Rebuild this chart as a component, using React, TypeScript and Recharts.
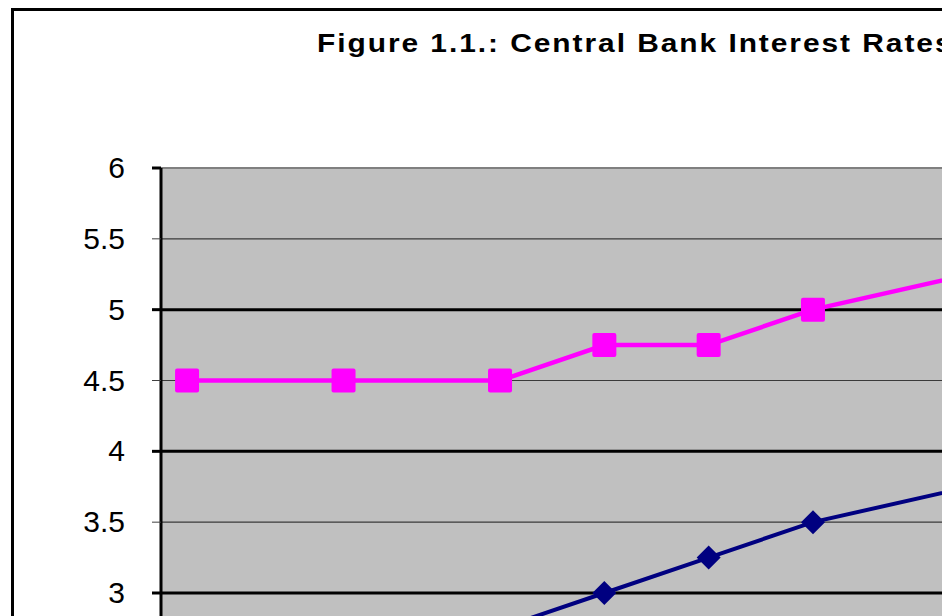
import { CartesianGrid, Line, LineChart, XAxis, YAxis } from 'recharts';

// months since Dec-2005 (date axis, monthly base unit)
const dates = ['Dec-05', 'Mar-06', 'Jun-06', 'Aug-06', 'Oct-06', 'Dec-06', 'Mar-07', 'Jun-07'];
const monthIndex = [0, 3, 6, 8, 10, 12, 15, 18];
const ecbRate = [2.25, 2.5, 2.75, 3.0, 3.25, 3.5, 3.75, 4.0];
const boeRate = [4.5, 4.5, 4.5, 4.75, 4.75, 5.0, 5.25, 5.5];
const yTicks = [0, 0.5, 1, 1.5, 2, 2.5, 3, 3.5, 4, 4.5, 5, 5.5, 6];
const majorGrid = [1, 2, 3, 4, 5];
const minorGrid = [0.5, 1.5, 2.5, 3.5, 4.5, 5.5];

const data = monthIndex.map((t, i) => ({
  t,
  date: dates[i],
  ecb: ecbRate[i],
  boe: boeRate[i],
}));

const FONT = '"Liberation Sans", Arial, sans-serif';

const YTick = (props: any) => {
  const { x, y, payload } = props;
  const major = Number.isInteger(payload.value);
  return (
    <g>
      <line
        x1={x - 9}
        x2={x}
        y1={y}
        y2={y}
        stroke={major ? '#000' : '#404040'}
        strokeWidth={major ? 3 : 1}
      />
      <text x={x - 36} y={y} dy={10} textAnchor="end" fontSize={30} fontFamily={FONT} fill="#000">
        {payload.value}
      </text>
    </g>
  );
};

const SquareDot = (props: any) => {
  const { cx, cy, index } = props;
  if (cx == null || cy == null) return <g key={`s${index}`} />;
  return <rect key={`s${index}`} x={cx - 12} y={cy - 12} width={24} height={24} rx={2} fill="#ff00ff" />;
};

const DiamondDot = (props: any) => {
  const { cx, cy, index } = props;
  if (cx == null || cy == null) return <g key={`d${index}`} />;
  return (
    <polygon
      key={`d${index}`}
      points={`${cx},${cy - 12} ${cx + 12},${cy} ${cx},${cy + 12} ${cx - 12},${cy}`}
      fill="#000080"
    />
  );
};

const App = () => {
  return (
    <div style={{ position: 'relative', width: 938, height: 608, overflow: 'hidden' }}>
      <div
        style={{
          position: 'absolute',
          left: 3,
          top: 0,
          border: '3px solid #000',
          width: 1248,
          height: 1107,
          background: '#fff',
        }}
      >
        <LineChart width={1248} height={1107} data={data} margin={{ top: 157, right: 110, bottom: 60, left: 0 }}>
          <CartesianGrid
            fill="#c0c0c0"
            vertical={false}
            horizontalValues={minorGrid}
            stroke="#3a3a3a"
            strokeWidth={1.2}
          />
          <CartesianGrid vertical={false} horizontalValues={majorGrid} stroke="#000" strokeWidth={3} />
          <CartesianGrid vertical={false} horizontalValues={[6]} stroke="#808080" strokeWidth={2} />
          <XAxis
            type="number"
            dataKey="t"
            domain={[-0.5, 18.5]}
            ticks={monthIndex}
            tickFormatter={(v) => dates[monthIndex.indexOf(v)] ?? ''}
            axisLine={{ stroke: '#000', strokeWidth: 3 }}
            tick={{ fontSize: 24, fontFamily: FONT, fill: '#000' }}
            height={40}
          />
          <YAxis
            type="number"
            domain={[0, 6]}
            ticks={yTicks}
            width={147}
            tickSize={0}
            tickMargin={0}
            tickLine={false}
            axisLine={{ stroke: '#000', strokeWidth: 3 }}
            tick={<YTick />}
            interval={0}
          />
          <Line
            type="linear"
            dataKey="boe"
            name="Bank of England"
            stroke="#ff00ff"
            strokeWidth={4.5}
            dot={<SquareDot />}
            activeDot={false}
            isAnimationActive={false}
          />
          <Line
            type="linear"
            dataKey="ecb"
            name="ECB"
            stroke="#000080"
            strokeWidth={4}
            dot={<DiamondDot />}
            activeDot={false}
            isAnimationActive={false}
          />
        </LineChart>
      </div>
      <div
        style={{
          position: 'absolute',
          left: 309,
          top: 22,
          fontFamily: FONT,
          fontWeight: 'bold',
          fontSize: 26,
          lineHeight: 1,
          letterSpacing: 1.7,
          whiteSpace: 'nowrap',
          transform: 'scaleX(1.15)',
          transformOrigin: 'left top',
        }}
      >
        Figure 1.1.: Central Bank Interest Rates
      </div>
    </div>
  );
};

export default App;
